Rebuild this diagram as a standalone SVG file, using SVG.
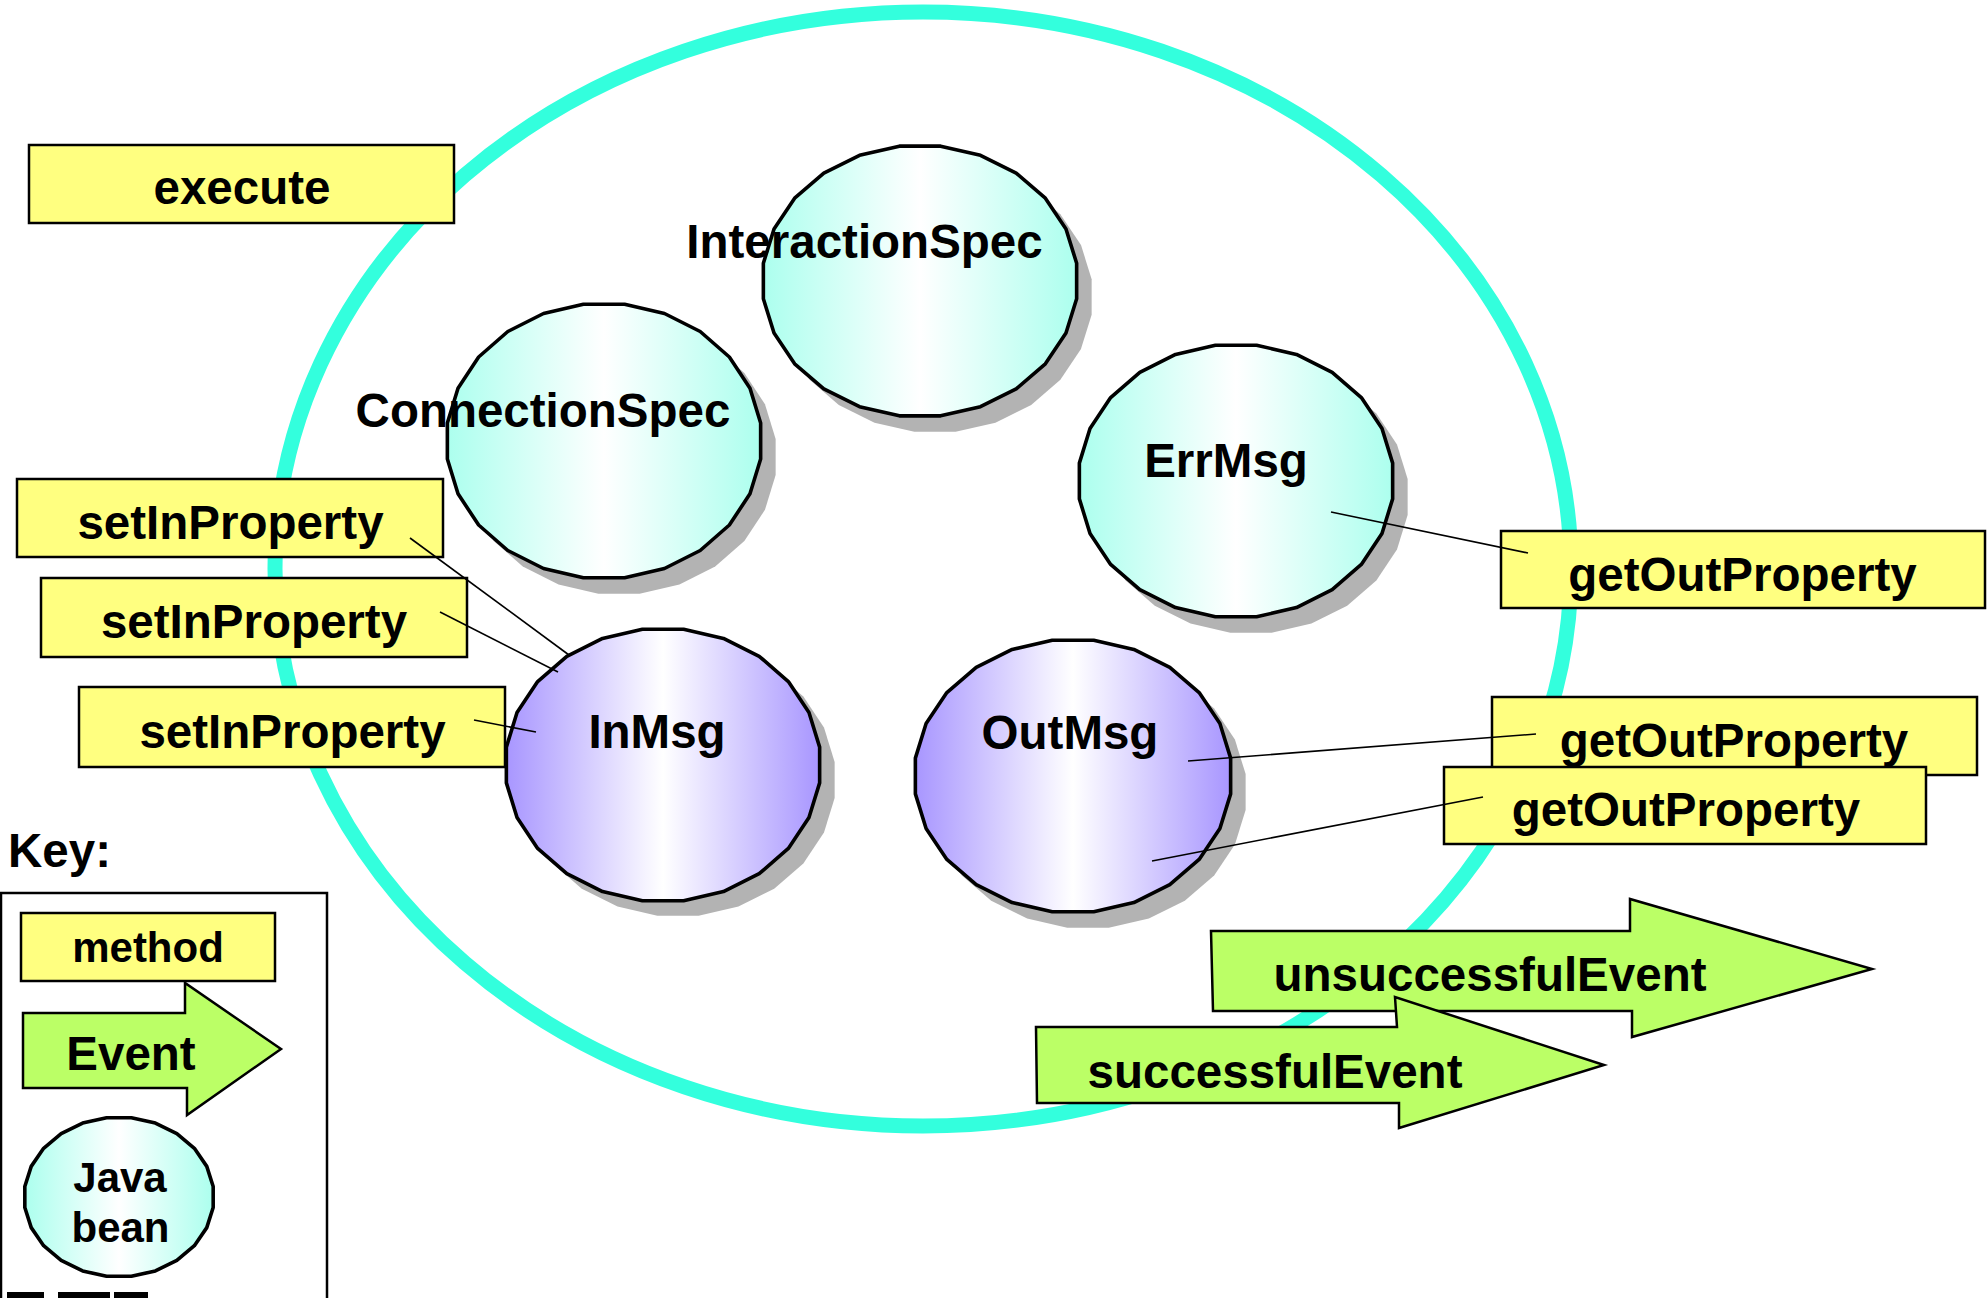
<svg xmlns="http://www.w3.org/2000/svg" xmlns:xlink="http://www.w3.org/1999/xlink" width="1988" height="1298" viewBox="0 0 1988 1298">
  <style>
    .lbl { font-family: "Liberation Sans", Arial, Helvetica, sans-serif; font-weight: bold; font-size: 47.5px; fill: #000; text-anchor: middle; }
    .keylbl { font-size: 42px; }
    .method { fill: #FFFF80; stroke: #000; stroke-width: 2.5; }
    .event { fill: #BBFF66; stroke: #000; stroke-width: 2.5; stroke-linejoin: miter; }
    .shadow { fill: #B3B3B3; stroke: none; }
    .bean { fill: url(#beanFill); stroke: #000; stroke-width: 3.6; stroke-linejoin: round; }
    .msg { fill: url(#msgFill); stroke: #000; stroke-width: 3.6; stroke-linejoin: round; }
    .wire { stroke: #000; stroke-width: 1.6; fill: none; }
  </style>
  <defs>
    <!-- faceted oval used for every bean, scaled per node -->
    <polygon id="oval" vector-effect="non-scaling-stroke"
      points="0.9914,0.1305 0.9239,0.3827 0.7934,0.6088 0.6088,0.7934 0.3827,0.9239 0.1305,0.9914 -0.1305,0.9914 -0.3827,0.9239 -0.6088,0.7934 -0.7934,0.6088 -0.9239,0.3827 -0.9914,0.1305 -0.9914,-0.1305 -0.9239,-0.3827 -0.7934,-0.6088 -0.6088,-0.7934 -0.3827,-0.9239 -0.1305,-0.9914 0.1305,-0.9914 0.3827,-0.9239 0.6088,-0.7934 0.7934,-0.6088 0.9239,-0.3827 0.9914,-0.1305"/>
    <linearGradient id="beanFill" x1="0" y1="0" x2="1" y2="0">
      <stop offset="0" stop-color="#ACFFEE"/>
      <stop offset="0.5" stop-color="#FFFFFF"/>
      <stop offset="1" stop-color="#ACFFEE"/>
    </linearGradient>
    <linearGradient id="msgFill" x1="0" y1="0" x2="1" y2="0">
      <stop offset="0" stop-color="#A896FF"/>
      <stop offset="0.5" stop-color="#FFFFFF"/>
      <stop offset="1" stop-color="#A896FF"/>
    </linearGradient>
  </defs>

  <rect width="1988" height="1298" fill="#FFFFFF"/>

  <!-- component boundary -->
  <ellipse id="boundary" cx="923" cy="569" rx="648" ry="557" fill="none" stroke="#33FFDD" stroke-width="15"/>

  <!-- beans -->
  <g id="node-interactionspec">
    <use xlink:href="#oval" class="shadow" transform="translate(935,297) scale(158,136)"/>
    <use xlink:href="#oval" class="bean" transform="translate(920,281) scale(158,136)"/>
    <text class="lbl" x="864.5" y="258">InteractionSpec</text>
  </g>
  <g id="node-connectionspec">
    <use xlink:href="#oval" class="shadow" transform="translate(619,457) scale(158,138)"/>
    <use xlink:href="#oval" class="bean" transform="translate(604,441) scale(158,138)"/>
    <text class="lbl" x="543" y="427">ConnectionSpec</text>
  </g>
  <g id="node-errmsg">
    <use xlink:href="#oval" class="shadow" transform="translate(1251,497) scale(158,137)"/>
    <use xlink:href="#oval" class="bean" transform="translate(1236,481) scale(158,137)"/>
    <text class="lbl" x="1226" y="477">ErrMsg</text>
  </g>
  <g id="node-inmsg">
    <use xlink:href="#oval" class="shadow" transform="translate(678,780) scale(158,137)"/>
    <use xlink:href="#oval" class="msg" transform="translate(663,765) scale(158,137)"/>
    <text class="lbl" x="657" y="748">InMsg</text>
  </g>
  <g id="node-outmsg">
    <use xlink:href="#oval" class="shadow" transform="translate(1088,792) scale(159,137)"/>
    <use xlink:href="#oval" class="msg" transform="translate(1073,776) scale(159,137)"/>
    <text class="lbl" x="1070" y="749">OutMsg</text>
  </g>

  <!-- methods -->
  <g id="node-execute">
    <rect class="method" x="29" y="145" width="425" height="78"/>
    <text class="lbl" x="242" y="204">execute</text>
  </g>
  <g id="node-setin-1">
    <rect class="method" x="17" y="479" width="426" height="78"/>
    <text class="lbl" x="230.5" y="539">setInProperty</text>
  </g>
  <g id="node-setin-2">
    <rect class="method" x="41" y="578" width="426" height="79"/>
    <text class="lbl" x="254" y="638">setInProperty</text>
  </g>
  <g id="node-setin-3">
    <rect class="method" x="79" y="687" width="426" height="80"/>
    <text class="lbl" x="292.5" y="748">setInProperty</text>
  </g>
  <g id="node-getout-1">
    <rect class="method" x="1501" y="531" width="484" height="77"/>
    <text class="lbl" x="1742.5" y="591">getOutProperty</text>
  </g>
  <g id="node-getout-2">
    <rect class="method" x="1492" y="697" width="485" height="78"/>
    <text class="lbl" x="1734" y="757">getOutProperty</text>
  </g>
  <g id="node-getout-3">
    <rect class="method" x="1444" y="767" width="482" height="77"/>
    <text class="lbl" x="1686" y="826">getOutProperty</text>
  </g>

  <!-- connectors -->
  <g id="connectors">
    <line class="wire" x1="410" y1="538" x2="569" y2="655"/>
    <line class="wire" x1="440" y1="612" x2="558" y2="672"/>
    <line class="wire" x1="474" y1="720" x2="536" y2="732"/>
    <line class="wire" x1="1331" y1="512" x2="1528" y2="553"/>
    <line class="wire" x1="1188" y1="761" x2="1536" y2="734"/>
    <line class="wire" x1="1152" y1="861" x2="1483" y2="797"/>
  </g>

  <!-- events -->
  <g id="node-unsuccessful">
    <polygon class="event" points="1211,931 1630,931 1630,899 1872,969 1632,1037 1632,1011 1213,1011"/>
    <text class="lbl" x="1490" y="991">unsuccessfulEvent</text>
  </g>
  <g id="node-successful">
    <polygon class="event" points="1036,1027 1397,1027 1395,997 1604,1065 1399,1128 1399,1103 1037,1103"/>
    <text class="lbl" x="1275" y="1088">successfulEvent</text>
  </g>

  <!-- legend -->
  <g id="legend">
    <text class="lbl" x="8" y="867" style="text-anchor:start">Key:</text>
    <rect x="1" y="893" width="326" height="420" fill="none" stroke="#000" stroke-width="2.5"/>
    <g id="legend-method">
      <rect class="method" x="21" y="913" width="254" height="68"/>
      <text class="lbl keylbl" x="148" y="962">method</text>
    </g>
    <g id="legend-event">
      <polygon class="event" points="23,1013 185,1013 185,983 281,1049 187,1115 187,1088 23,1088"/>
      <text class="lbl" x="131" y="1070">Event</text>
    </g>
    <g id="legend-bean">
      <use xlink:href="#oval" class="bean" transform="translate(119,1197) scale(95,80)"/>
      <text class="lbl keylbl" x="120" y="1192">Java</text>
      <text class="lbl keylbl" x="120.5" y="1242">bean</text>
    </g>
  </g>

  <!-- top edge of the logo strip at the page foot -->
  <g id="logo-strip" fill="#000">
    <rect x="7" y="1292" width="37" height="6"/>
    <rect x="58" y="1292" width="52" height="6"/>
    <rect x="114" y="1292" width="34" height="6"/>
  </g>
</svg>
